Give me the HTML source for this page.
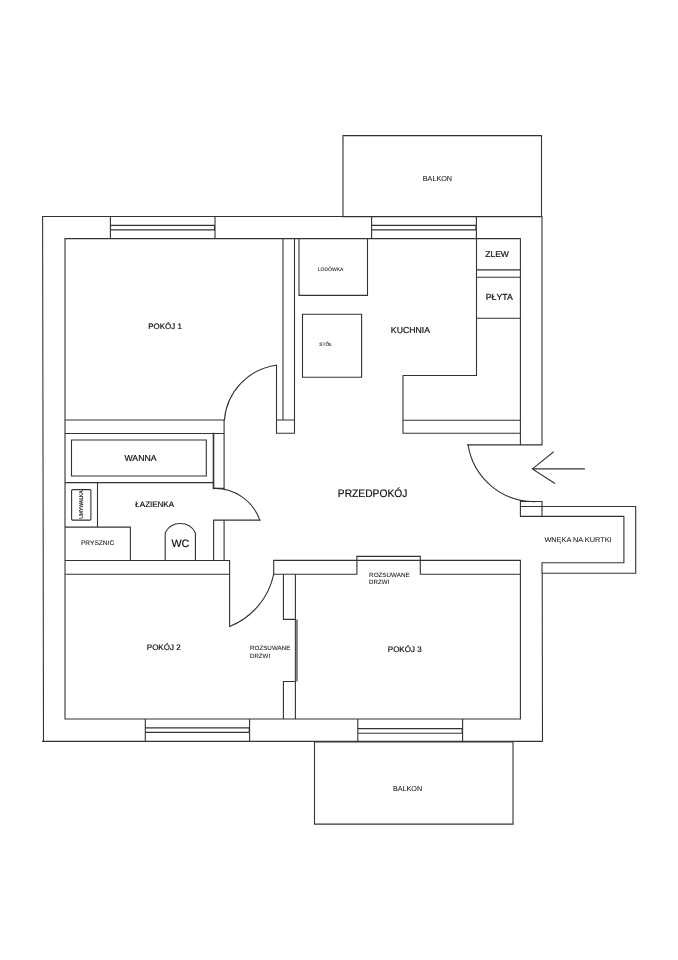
<!DOCTYPE html>
<html><head><meta charset="utf-8"><style>
html,body{margin:0;padding:0;background:#fff;width:678px;height:960px;overflow:hidden}
body{-webkit-font-smoothing:antialiased}
svg{display:block}
svg g.t{will-change:transform}
text{font-family:"Liberation Sans",sans-serif;fill:#111;stroke:#111;stroke-width:0.2px;text-rendering:geometricPrecision}
text.sm{stroke-width:0.08px;fill:#222;stroke:#222}
</style></head><body>
<svg width="678" height="960" viewBox="0 0 678 960">
<rect width="678" height="960" fill="#fff"/>
<g class="s" fill="none" stroke="#333" stroke-width="1.1" stroke-linecap="square">
<path d="M42.6,216.5L43.5,741.4 M42.6,216.5L542,216.5 M542,216.5L542,444.9 M42.6,741.4L542,741.4 M542.2,573.3L542.5,741.4 M65,238.6L65,719 M65,238.6L520.4,238.6 M520.4,238.6L520.4,444.9 M65,719L520.4,719 M520.4,560.3L520.4,719 M110.4,216.5L110.4,238.6 M215,216.5L215,238.6 M110.4,225.4L214.5,225.4 M110.4,229.9L214.5,229.9 M110.4,225.4L110.4,229.9 M214.5,225.4L214.5,229.9 M371.6,216.5L371.6,238.6 M476.4,216.5L476.4,238.6 M371.6,225.4L475.9,225.4 M371.6,229.9L475.9,229.9 M371.6,225.4L371.6,229.9 M475.9,225.4L475.9,229.9 M145.3,719L145.3,741.4 M249.6,719L249.6,741.4 M145.3,727.9L249.2,727.9 M145.3,732.4L249.2,732.4 M145.3,727.9L145.3,732.4 M249.2,727.9L249.2,732.4 M357.8,719L357.8,741.4 M462.6,719L462.6,741.4 M357.8,728.6L462.2,728.6 M357.8,733.3L462.2,733.3 M357.8,728.6L357.8,733.3 M462.2,728.6L462.2,733.3 M343,135.6L541.5,135.6 M343,216.8L541.5,216.8 M343,135.6L343,216.8 M541.5,135.6L541.5,216.8 M314.5,742L513,742 M314.5,824.1L513,824.1 M314.5,742L314.5,824.1 M513,742L513,824.1 M283,238.6L283,420 M294.5,238.6L294.5,433.3 M276.5,365.2L276.5,433.3 M276.5,420L294.5,420 M276.5,433.3L294.5,433.3 M65,420L224.2,420 M65,433.5L224.2,433.5 M224.1,420L224.1,488.4 M213.6,488.4L224.1,488.4 M213.6,520.1L259.8,520.1 M213.6,520.1L213.6,560.5 M224.1,520.1L224.1,560.5 M65,482.6L213.6,482.6 M71.5,440L206.3,440 M71.5,476L206.3,476 M71.5,440L71.5,476 M206.3,440L206.3,476 M97.5,482.6L97.5,527.1 M65,527.1L130.4,527.1 M130.4,527.1L130.4,560.5 M65,560.5L229.6,560.5 M65,574.3L229.6,574.3 M229.6,560.5L229.6,626.5 M273.7,560.4L273.7,574.3 M273.7,560.4L520.4,560.4 M273.7,574.3L356.9,574.3 M420.3,574.3L520.4,574.3 M356.9,556.4L420.3,556.4 M356.9,556.4L356.9,574.3 M420.3,556.4L420.3,574.3 M283.4,574.3L295.4,574.3 M283.4,619.4L295.4,619.4 M283.4,574.3L283.4,619.4 M295.4,574.3L295.4,619.4 M283.4,681.5L295.4,681.5 M283.4,719L295.4,719 M283.4,681.5L283.4,719 M295.4,681.5L295.4,719 M295.4,619.4L295.4,681.5 M299,238.6L367.5,238.6 M299,295.4L367.5,295.4 M299,238.6L299,295.4 M367.5,238.6L367.5,295.4 M302.5,314.2L361.6,314.2 M302.5,377.3L361.6,377.3 M302.5,314.2L302.5,377.3 M361.6,314.2L361.6,377.3 M476.5,238.6L476.5,375.5 M476.5,269.9L520.4,269.9 M476.5,277.2L520.4,277.2 M476.5,318.3L520.4,318.3 M403,375.5L476.5,375.5 M403,375.5L403,433.3 M403,420.2L520.4,420.2 M403,433.3L520.4,433.3 M467.7,444.9L542,444.9 M520.4,501.5L542,501.5 M520.4,501.5L520.4,516.4 M542,501.5L542,516.4 M520.4,506.5L635.7,506.5 M635.7,506.5L635.7,573.3 M542,573.3L635.7,573.3 M520.4,516.4L623.9,516.4 M623.9,516.4L623.9,562.7 M542,562.7L623.9,562.7 M542,562.7L542,573.3"/>
<path d="M276.5,365.2 A60.3,60.3 0 0 0 224.4,420"/>
<path d="M213.5,433.5 V488.4" stroke-width="1.6"/>
<path d="M214,488.4 A47.6,47.6 0 0 1 259.8,520.1"/>
<path d="M72.6,489.6 H89.9 Q90.9,489.6 90.9,490.6 V519.1 Q90.9,520.1 89.9,520.1 H72.6 Q71.6,520.1 71.6,519.1 V490.6 Q71.6,489.6 72.6,489.6 Z"/>
<path d="M165.2,560.5 V532.7 A17,17 0 0 1 195.4,532.7 V560.5"/>
<path d="M229.6,626.5 A72.5,72.5 0 0 0 273.7,574.3"/>
<path d="M468.1,444.9 A67,67 0 0 0 534.5,501.6"/>
<path d="M553.3,452.1 L532.4,468.9 L554.6,483.3 M532.4,468.9 H584.3"/>
<path d="M296.9,619.4 V681.5" stroke-width="2" stroke="#808080" stroke-linecap="butt"/>
</g>
<g class="t">
<text class="sm" x="437.4" y="180.8" font-size="7.2" text-anchor="middle">BALKON</text>
<text class="sm" x="407.5" y="790.9" font-size="7.2" text-anchor="middle">BALKON</text>
<text x="165.1" y="329.1" font-size="7.95" text-anchor="middle">POKÓJ 1</text>
<text class="sm" x="330.6" y="270.9" font-size="5" text-anchor="middle">LODÓWKA</text>
<text class="sm" x="325.6" y="345.8" font-size="4.8" text-anchor="middle">STÓŁ</text>
<text x="410.4" y="332.8" font-size="8.7" text-anchor="middle">KUCHNIA</text>
<text x="497.1" y="256.9" font-size="8.5" text-anchor="middle">ZLEW</text>
<text x="499.3" y="300.2" font-size="8.8" text-anchor="middle">PŁYTA</text>
<text x="140.5" y="460.8" font-size="8.7" text-anchor="middle">WANNA</text>
<text x="154.7" y="506.7" font-size="8" text-anchor="middle">ŁAZIENKA</text>
<text class="sm" x="97.6" y="545.3" font-size="6.6" text-anchor="middle">PRYSZNIC</text>
<text x="180.3" y="547.4" font-size="10.7" text-anchor="middle">WC</text>
<text x="0" y="0" font-size="5.6" text-anchor="middle" textLength="28.4" lengthAdjust="spacingAndGlyphs" transform="translate(83.0,504.6) rotate(-90)" style="stroke-width:0.15px">UMYWALKA</text>
<text x="372.6" y="496.9" font-size="10.9" text-anchor="middle" textLength="69.6" lengthAdjust="spacingAndGlyphs">PRZEDPOKÓJ</text>
<text class="sm" x="369.1" y="576.5" font-size="6.15" text-anchor="start" textLength="40.6" lengthAdjust="spacingAndGlyphs">ROZSUWANE</text>
<text class="sm" x="369.1" y="583.9" font-size="6.15" text-anchor="start">DRZWI</text>
<text class="sm" x="250" y="650.3" font-size="6.15" text-anchor="start" textLength="40.4" lengthAdjust="spacingAndGlyphs">ROZSUWANE</text>
<text class="sm" x="250" y="657.7" font-size="6.15" text-anchor="start">DRZWI</text>
<text x="163.7" y="649.6" font-size="8.0" text-anchor="middle">POKÓJ 2</text>
<text x="404.7" y="651.7" font-size="8.0" text-anchor="middle">POKÓJ 3</text>
<text class="sm" x="578" y="542" font-size="6.9" text-anchor="middle" textLength="67.2" lengthAdjust="spacingAndGlyphs">WNĘKA NA KURTKI</text>
</g>
</svg>
</body></html>
